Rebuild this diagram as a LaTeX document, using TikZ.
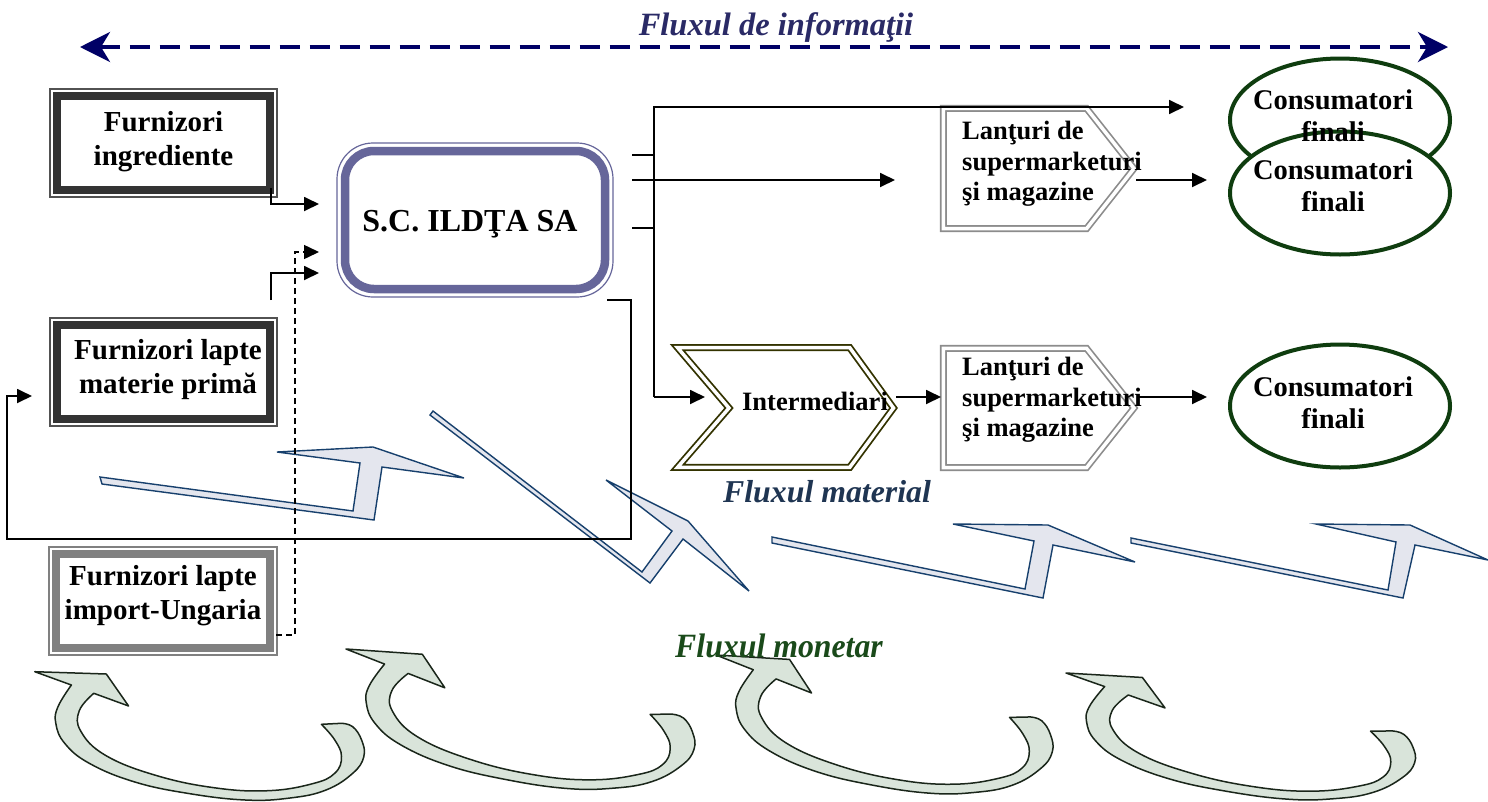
\documentclass[tikz,border=0pt]{standalone}
\usepackage{fontspec}
\setmainfont{Liberation Serif}
\usetikzlibrary{arrows.meta,shapes.geometric,calc}
\definecolor{boxdark}{HTML}{333333}
\definecolor{boxgray}{HTML}{808080}
\definecolor{scblue}{HTML}{66669A}
\definecolor{olivedk}{HTML}{333300}
\definecolor{lgray}{HTML}{8C8C8C}
\definecolor{cgreen}{HTML}{0F3D0F}
\definecolor{infonavy}{HTML}{000066}
\definecolor{infotext}{HTML}{2A2A66}
\definecolor{mattext}{HTML}{1F3552}
\definecolor{montext}{HTML}{1A4A1A}
\definecolor{boltline}{HTML}{17406D}
\definecolor{boltfill}{HTML}{E4E6EE}
\definecolor{curvefill}{HTML}{D9E4DA}
\definecolor{curveline}{HTML}{1A261A}
\begin{document}
\begin{tikzpicture}[x=1pt,y=-1pt,
  conn/.style={draw=black, line width=1.8pt, -{Triangle[length=15pt,width=14pt]}},
  plainline/.style={draw=black, line width=1.8pt},
  boxtext/.style={font=\fontsize{29}{34}\selectfont\bfseries, align=center, inner sep=0pt},
  lantext/.style={font=\fontsize{26.5}{30.5}\selectfont\bfseries, align=left, inner sep=0pt, anchor=west},
  constext/.style={font=\fontsize{28.5}{32}\selectfont\bfseries, align=center, inner sep=0pt},
  flowtext/.style={font=\fontsize{#1}{34}\selectfont\bfseries\itshape, inner sep=0pt},
  emptybox/.style={inner sep=0pt, outer sep=0pt, minimum width=#1},
  bolt/.style={fill=boltfill, draw=boltline, line width=1.4pt, line join=miter},
  consell/.style={ellipse, draw=cgreen, line width=4pt, fill=white, minimum width=220pt, minimum height=123pt, inner sep=0pt},
  moneyarrow/.pic={
    \filldraw[fill=curvefill, draw=curveline, line width=1.5pt, line join=round]
      (0,0) -- (71.5,2.3) -- (93.8,34.3) -- (59,21.6)
      -- plot[smooth, tension=0.7] coordinates {(59,21.6) (44.5,39) (46,59.5) (70.5,83.5) (120.5,103.5) (179.2,116) (233.2,119) (277.7,112) (300,101.5) (306.7,85) (300,68.3) (286.6,52.6)}
      -- (306.7,51.6)
      -- plot[smooth, tension=0.7] coordinates {(306.7,51.6) (317.9,55) (326.8,68.3) (329,85) (317.9,101.6) (291.2,118.3) (255.2,126.3) (210.7,128.3) (152.7,121.6) (99.1,110) (54.5,91.6) (29.9,71.6) (21,51.6) (23.2,35) (36.6,13.3)}
      -- cycle;
  }]
\useasboundingbox[fill=white] (0,0) rectangle (1488,801);

% ---- block arrows (material flow)
\filldraw[bolt] (100,477) -- (353,511) -- (360,463) -- (277,452) -- (373,447) -- (464,478) -- (382,467) -- (374,520) -- (102,484) -- cycle;
\filldraw[bolt] (433,411) -- (642,572) -- (672,531) -- (606,480) -- (688,521) -- (749,591) -- (683,539) -- (650,583) -- (430,415) -- cycle;
\filldraw[bolt] (772,537) -- (1025,589) -- (1034,541) -- (953,524) -- (1048,525) -- (1135,562) -- (1053,545) -- (1043,598) -- (772,543) -- cycle;
\filldraw[bolt] (1131,538) -- (1388,590) -- (1396,542) -- (1316,524) -- (1410,525) -- (1488,560) -- (1415,545) -- (1403,598) -- (1131,543) -- cycle;

% ---- curved arrows (money flow)
\pic (m1) at (34.8,671.7) {moneyarrow};
\pic[xscale=1.07, yscale=1.02, rotate=-2.3] (m2) at (346,649) {moneyarrow};
\pic[scale=1.03, rotate=-1.6] (m3) at (716,655) {moneyarrow};
\pic[xscale=1.07, yscale=0.93, rotate=-2] (m4) at (1066,673) {moneyarrow};

% ---- information flow
\coordinate (ia) at (80,47);
\coordinate (ib) at (1448,47);
\draw[infonavy, line width=4pt, dash pattern=on 20pt off 10pt,
  {Stealth[length=30pt,width=30pt,inset=9pt]}-{Stealth[length=30pt,width=30pt,inset=9pt]}] (ia) -- (ib);

% ---- supplier boxes
\node[emptybox=227pt, minimum height=108pt, draw=boxdark!85, line width=1.2pt] (fi) at (163.5,143) {};
\draw[line width=8pt, boxdark] ($(fi.north west)+(7,7)$) rectangle ($(fi.south east)+(-7,-7)$);
\node[emptybox=227pt, minimum height=108pt, draw=boxdark!85, line width=1.2pt] (flm) at (163.5,372) {};
\draw[line width=8pt, boxdark] ($(flm.north west)+(7,7)$) rectangle ($(flm.south east)+(-7,-7)$);
\node[emptybox=228pt, minimum height=108pt, draw=boxgray, line width=1.2pt] (fli) at (163,601) {};
\draw[line width=8pt, boxgray] ($(fli.north west)+(7,7)$) rectangle ($(fli.south east)+(-7,-7)$);

% ---- company box
\node[emptybox=276pt, minimum height=154pt] (sc) at (475,220) {};
\draw[scblue, line width=1.2pt, rounded corners=36pt] (sc.north west) rectangle (sc.south east);
\draw[scblue, line width=8.5pt, rounded corners=29pt] ($(sc.north west)+(8,8)$) rectangle ($(sc.south east)+(-8,-8)$);

% ---- chevrons
\draw[olivedk, line width=1.8pt, double=white, double distance=3.5pt, line join=miter]
  (677.5,347.6) -- (849.7,347.6) -- (893.5,408) -- (849.7,467.4) -- (677.5,467.4) -- (729,408) -- cycle;
\draw[lgray, line width=1.7pt, double=white, double distance=3.5pt, line join=miter]
  (943.4,108.4) -- (1086.6,108.4) -- (1134,168.5) -- (1086.6,228.6) -- (943.4,228.6) -- cycle;
\draw[lgray, line width=1.7pt, double=white, double distance=3.5pt, line join=miter]
  (943.4,348.4) -- (1086.6,348.4) -- (1134,408) -- (1086.6,467.6) -- (943.4,467.6) -- cycle;

% ---- consumer ellipses
\node[consell] (cf1) at (1340,120) {};
\node[consell] (cf2) at (1340,193) {};
\node[consell] (cf3) at (1340,406) {};

% ---- connectors, left side
\coordinate (fiout) at (271,188);
\coordinate (scin1) at (319,204);
\coordinate (liout) at (276,635);
\coordinate (scin2) at (319,252);
\coordinate (flmout) at (271,300);
\coordinate (scin3) at (319,273);
\draw[conn] (fiout) |- (scin1);
\draw[conn, dash pattern=on 6pt off 4pt, line width=1.5pt] (liout) -- (295,635) |- (scin2);
\draw[conn] (flmout) |- (scin3);
\coordinate (scback) at (607,300);
\coordinate (flmin) at (32,396);
\draw[conn] (scback) -- (631,300) -- (631,539) -- (7,539) |- (flmin);

% ---- connectors, right side
\coordinate (busmid) at (654,397);
\coordinate (intin) at (705,397);
\coordinate (c1in) at (1184,107);
\draw[plainline] (632,155) -- (654,155);
\draw[plainline] (632,228) -- (654,228);
\draw[conn] (busmid) -- (intin);
\draw[conn] (busmid) -- (654,107) -- (c1in);
\coordinate (scout) at (632,180);
\coordinate (midend) at (895,180);
\draw[conn] (scout) -- (midend);
\coordinate (intout) at (896,397);
\coordinate (lan2in) at (941,397);
\draw[conn] (intout) -- (lan2in);
\coordinate (lan1out) at (1136,180);
\coordinate (cf2in) at (1207,180);
\draw[conn] (lan1out) -- (cf2in);
\coordinate (lan2out) at (1137,397);
\coordinate (cf3in) at (1207,397);
\draw[conn] (lan2out) -- (cf3in);

% ---- texts
\node[flowtext=32.5, text=infotext] (tinfo) at (776,28) {Fluxul de informaţii};
\node[flowtext=31.8, text=mattext] (tmat) at (827,492) {Fluxul material};
\node[flowtext=34, text=montext, xscale=0.935] (tmon) at (779,646) {Fluxul monetar};
\node[boxtext] (tfi) at (163.5,141.5) {Furnizori\\ingrediente};
\node[boxtext] (tflm) at (168,370) {Furnizori lapte\\materie primă};
\node[boxtext] (tfli) at (163,596) {Furnizori lapte\\import-Ungaria};
\node[font=\fontsize{32}{36}\selectfont\bfseries, inner sep=0pt] (tsc) at (470,224) {S.C. ILDŢA SA};
\node[font=\fontsize{26.5}{30}\selectfont\bfseries, inner sep=0pt] (tint) at (815,401) {Intermediari};
\node[lantext] (tlan1) at (962,164) {Lanţuri de\\supermarketuri\\şi magazine};
\node[lantext] (tlan2) at (962,400) {Lanţuri de\\supermarketuri\\şi magazine};
\node[constext] (tcf1) at (1333,116) {Consumatori\\finali};
\node[constext] (tcf2) at (1333,186) {Consumatori\\finali};
\node[constext] (tcf3) at (1333,403) {Consumatori\\finali};
\end{tikzpicture}
\end{document}
